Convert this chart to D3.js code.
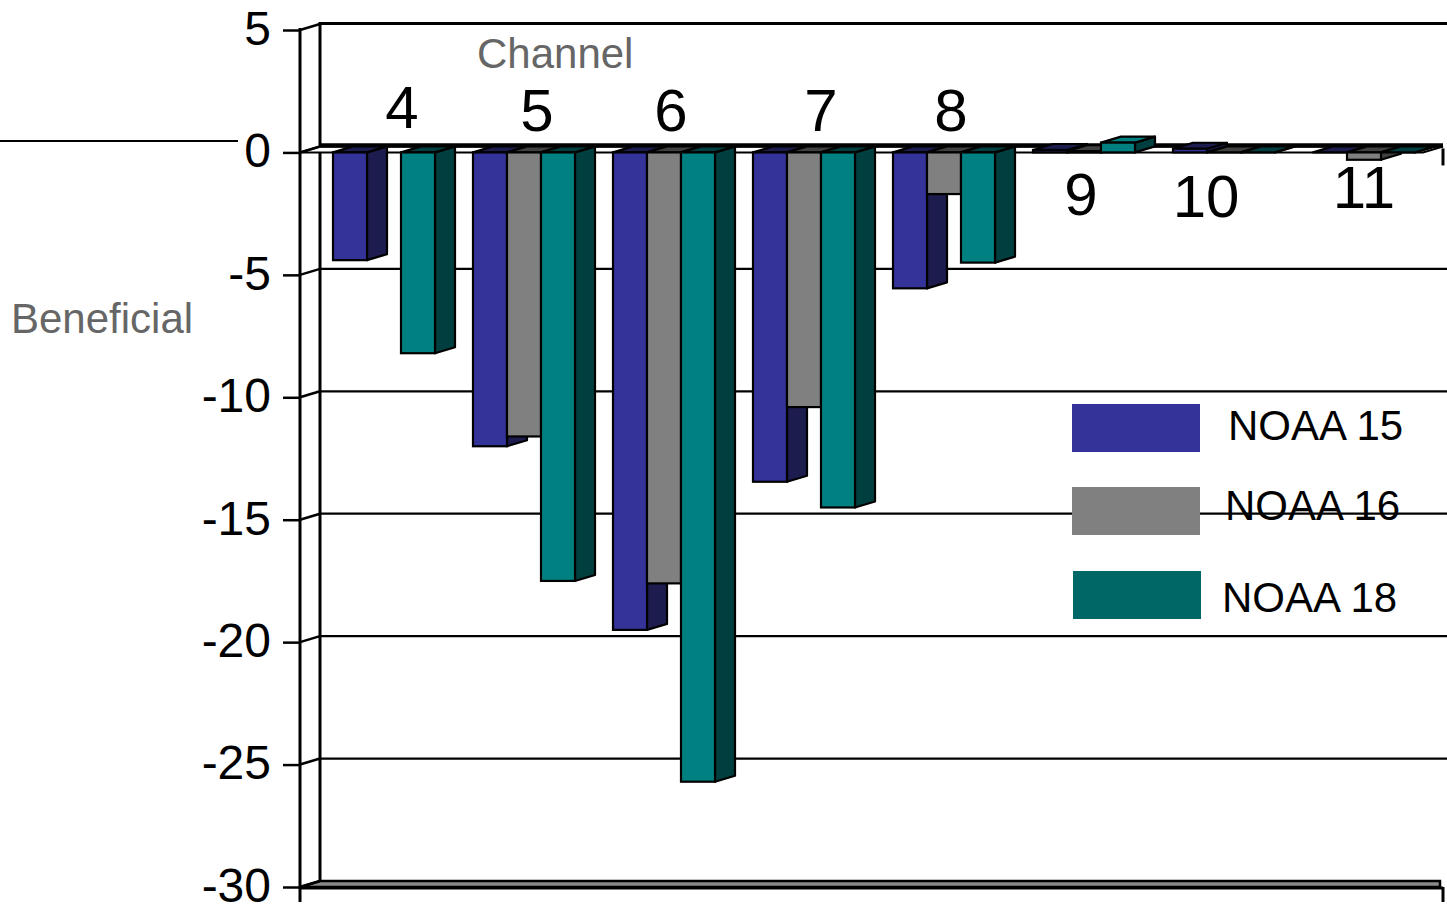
<!DOCTYPE html>
<html>
<head>
<meta charset="utf-8">
<script src="https://cdn.jsdelivr.net/npm/d3@7"></script>
<style>
  html, body { margin: 0; padding: 0; background: #ffffff; }
  svg { display: block; }
  text { font-family: "Liberation Sans", Arial, sans-serif; }
</style>
</head>
<body>
<svg id="chart" width="1447" height="909"></svg>
<script>
// ---------- data ----------
const categories = ["4", "5", "6", "7", "8", "9", "10", "11"];
const seriesNames = ["NOAA 15", "NOAA 16", "NOAA 18"];
const noaa15 = [-4.4, -12.0, -19.5, -13.45, -5.55, 0.1, 0.15, 0.0];
const noaa16 = [null, -11.6, -17.6, -10.4, -1.7, 0.05, 0.0, -0.3];
const noaa18 = [-8.2, -17.5, -25.7, -14.5, -4.5, 0.4, 0.0, 0.0];
const yTicks = [5, 0, -5, -10, -15, -20, -25, -30];

// ---------- layout / style ----------
const W = 1447, H = 909;
const frontX = 300, depthX = 20, depthY = -6;
const frontColors = ["#333399", "#808080", "#008080"];
const sideColors = ["#1c1c4f", "#404040", "#003f3f"];
const legendColors = ["#333399", "#808080", "#006666"];
// category label placement (offset from group centre, baseline)
const labelDx = [18, 13, 7, 17, 7, -3, -18, 0];
const labelBaseline = [128, 131, 131, 131, 131, 215, 217, 208];

const svg = d3.select("#chart");

const y = d3.scaleLinear().domain([-30, 5]).range([887, 30]);
const x0 = d3.scaleBand().domain(categories).range([300, 1448])
  .paddingInner(0.2714).paddingOuter(0.2357);
const x1 = d3.scaleBand().domain(seriesNames).range([0, x0.bandwidth()]);

const seriesValues = [noaa15, noaa16, noaa18];
const bars = [];
categories.forEach((c, ci) => {
  seriesNames.forEach((s, si) => {
    const v = seriesValues[si][ci];
    if (v !== null) bars.push({ cat: c, ci, si, value: v });
  });
});

const ink = "#000000";
const rightEnd = x0.range()[1] - 8; // back wall right extent ~1440

// ---------- back wall gridlines ----------
const gGrid = svg.append("g");
yTicks.filter(v => v > -30 && v < 5 && v !== 0).forEach(v => {
  gGrid.append("line")
    .attr("x1", frontX + depthX).attr("x2", W)
    .attr("y1", y(v) + depthY).attr("y2", y(v) + depthY)
    .attr("stroke", ink).attr("stroke-width", 2.2);
});
// top edge of wall (value 5)
gGrid.append("line")
  .attr("x1", frontX + depthX).attr("x2", W)
  .attr("y1", y(5) + depthY - 0.5).attr("y2", y(5) + depthY - 0.5)
  .attr("stroke", ink).attr("stroke-width", 3);
// left wall edge
gGrid.append("line")
  .attr("x1", frontX + depthX).attr("x2", frontX + depthX)
  .attr("y1", y(5) + depthY - 2).attr("y2", y(-30) + depthY)
  .attr("stroke", ink).attr("stroke-width", 3);

// floor at -30
const floorPts = [
  [frontX, y(-30)], [frontX + depthX, y(-30) + depthY],
  [rightEnd + depthX - 20, y(-30) + depthY], [rightEnd, y(-30)]
];
svg.append("polygon")
  .attr("points", floorPts.map(p => p.join(",")).join(" "))
  .attr("fill", "#8a8a8a").attr("stroke", ink).attr("stroke-width", 2.5);
svg.append("line")
  .attr("x1", frontX).attr("x2", rightEnd + 3)
  .attr("y1", y(-30) + 1).attr("y2", y(-30) + 1)
  .attr("stroke", ink).attr("stroke-width", 3);
svg.append("line")
  .attr("x1", rightEnd + 3).attr("x2", rightEnd + 3)
  .attr("y1", y(-30)).attr("y2", y(-30) + 15)
  .attr("stroke", ink).attr("stroke-width", 3);

// zero plane
const zeroPts = [
  [frontX, y(0)], [frontX + depthX, y(0) + depthY],
  [rightEnd + 3, y(0) + depthY], [rightEnd + 3 - depthX, y(0)]
];
svg.append("polygon")
  .attr("points", zeroPts.map(p => p.join(",")).join(" "))
  .attr("fill", "#ffffff").attr("stroke", ink).attr("stroke-width", 2);
svg.append("line")
  .attr("x1", frontX + depthX).attr("x2", rightEnd + 3)
  .attr("y1", y(0) + depthY - 1).attr("y2", y(0) + depthY - 1)
  .attr("stroke", ink).attr("stroke-width", 4.5);
svg.append("line")
  .attr("x1", rightEnd + 3).attr("x2", rightEnd + 3)
  .attr("y1", y(0) - 4).attr("y2", y(0) + 13)
  .attr("stroke", ink).attr("stroke-width", 3);

// ---------- y axis ----------
const axis = d3.axisLeft(y).tickValues(yTicks).tickSize(17).tickPadding(12)
  .tickFormat(d => String(d));
const gAxis = svg.append("g").attr("transform", `translate(${frontX},0)`).call(axis);
gAxis.select(".domain").remove();
gAxis.selectAll(".tick line").attr("stroke", ink).attr("stroke-width", 2.5);
gAxis.selectAll(".tick text")
  .attr("fill", ink)
  .attr("dy", "0.3em")
  .style("font-family", '"Liberation Sans", Arial, sans-serif')
  .style("font-size", "48px");
// diagonal depth connectors
yTicks.forEach(v => {
  svg.append("line")
    .attr("x1", frontX).attr("y1", y(v))
    .attr("x2", frontX + depthX).attr("y2", y(v) + depthY)
    .attr("stroke", ink).attr("stroke-width", 2.5);
});
// front axis line
svg.append("line")
  .attr("x1", frontX).attr("x2", frontX)
  .attr("y1", y(5) - 2).attr("y2", y(-30) + 15)
  .attr("stroke", ink).attr("stroke-width", 3);

// ---------- bars ----------
const gBars = svg.append("g");
bars.forEach(b => {
  const xa = x0(b.cat) + x1(seriesNames[b.si]);
  const xb = xa + x1.bandwidth();
  const yt = y(Math.max(b.value, 0));
  const yb = y(Math.min(b.value, 0));
  const pts = a => a.map(p => p.join(",")).join(" ");
  // side face
  gBars.append("polygon")
    .attr("points", pts([[xb, yt], [xb + depthX, yt + depthY], [xb + depthX, yb + depthY], [xb, yb]]))
    .attr("fill", sideColors[b.si]).attr("stroke", ink).attr("stroke-width", 2.2)
    .attr("stroke-linejoin", "round");
  // top face
  gBars.append("polygon")
    .attr("points", pts([[xa, yt], [xa + depthX, yt + depthY], [xb + depthX, yt + depthY], [xb, yt]]))
    .attr("fill", b.value > 0.2 ? frontColors[b.si] : sideColors[b.si])
    .attr("stroke", ink).attr("stroke-width", 2.2).attr("stroke-linejoin", "round");
  // front face
  if (yb - yt > 0.5) {
    gBars.append("rect")
      .attr("x", xa).attr("y", yt).attr("width", xb - xa).attr("height", yb - yt)
      .attr("fill", frontColors[b.si]).attr("stroke", ink).attr("stroke-width", 2.2);
  }
});

// ---------- category labels ----------
categories.forEach((c, i) => {
  svg.append("text")
    .attr("x", x0(c) + x0.bandwidth() / 2 + labelDx[i])
    .attr("y", labelBaseline[i])
    .attr("text-anchor", "middle")
    .attr("fill", ink)
    .style("font-size", "60px")
    .text(c);
});

// ---------- titles ----------
svg.append("text").attr("x", 477).attr("y", 68)
  .attr("fill", "#666666").style("font-size", "42px").text("Channel");
svg.append("text").attr("x", 11).attr("y", 333)
  .attr("fill", "#666666").style("font-size", "42px").text("Beneficial");
svg.append("line")
  .attr("x1", 0).attr("x2", 238).attr("y1", 141).attr("y2", 141)
  .attr("stroke", ink).attr("stroke-width", 1.8);

// ---------- legend ----------
const legendRows = [
  { x: 1072, y: 404, tx: 1228, ty: 440 },
  { x: 1072, y: 487, tx: 1225, ty: 520 },
  { x: 1073, y: 571, tx: 1222, ty: 612 }
];
seriesNames.forEach((s, i) => {
  const r = legendRows[i];
  svg.append("rect").attr("x", r.x).attr("y", r.y).attr("width", 128).attr("height", 48)
    .attr("fill", legendColors[i]);
  svg.append("text").attr("x", r.tx).attr("y", r.ty).attr("fill", ink)
    .style("font-size", "42px").text(s);
});
</script>
</body>
</html>
